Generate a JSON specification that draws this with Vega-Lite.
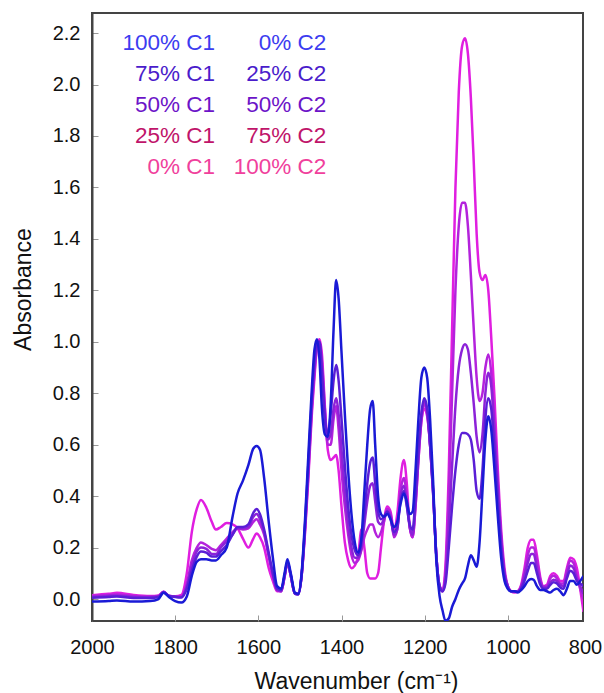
{
  "$schema": "https://vega.github.io/schema/vega-lite/v6.json",
  "width": 491,
  "height": 608,
  "autosize": "none",
  "padding": {"left": 92, "top": 13, "right": 21, "bottom": 72},
  "background": "white",
  "config": {"font": "Liberation Sans", "view": {"stroke": "#444", "strokeWidth": 2}},
  "data": {"values": [
    {"w": 2000, "100% C1": -0.01, "75% C1": 0.005, "50% C1": 0.008, "25% C1": 0.012, "0% C1": 0.015},
    {"w": 1960, "100% C1": -0.008, "75% C1": 0.008, "50% C1": 0.012, "25% C1": 0.016, "0% C1": 0.02},
    {"w": 1940, "100% C1": -0.006, "75% C1": 0.01, "50% C1": 0.013, "25% C1": 0.018, "0% C1": 0.024},
    {"w": 1900, "100% C1": -0.01, "75% C1": 0.004, "50% C1": 0.008, "25% C1": 0.012, "0% C1": 0.016},
    {"w": 1860, "100% C1": -0.008, "75% C1": 0.004, "50% C1": 0.007, "25% C1": 0.01, "0% C1": 0.012},
    {"w": 1840, "100% C1": 0.0, "75% C1": 0.008, "50% C1": 0.01, "25% C1": 0.012, "0% C1": 0.014},
    {"w": 1828, "100% C1": 0.024, "75% C1": 0.026, "50% C1": 0.027, "25% C1": 0.028, "0% C1": 0.028},
    {"w": 1815, "100% C1": 0.008, "75% C1": 0.012, "50% C1": 0.012, "25% C1": 0.013, "0% C1": 0.012},
    {"w": 1800, "100% C1": -0.008, "75% C1": 0.008, "50% C1": 0.009, "25% C1": 0.01, "0% C1": 0.011},
    {"w": 1785, "100% C1": -0.014, "75% C1": 0.006, "50% C1": 0.008, "25% C1": 0.01, "0% C1": 0.016},
    {"w": 1772, "100% C1": 0.01, "75% C1": 0.04, "50% C1": 0.05, "25% C1": 0.06, "0% C1": 0.1},
    {"w": 1760, "100% C1": 0.09, "75% C1": 0.11, "50% C1": 0.13, "25% C1": 0.15, "0% C1": 0.26},
    {"w": 1748, "100% C1": 0.145, "75% C1": 0.165, "50% C1": 0.185, "25% C1": 0.2, "0% C1": 0.35},
    {"w": 1738, "100% C1": 0.155, "75% C1": 0.185, "50% C1": 0.2, "25% C1": 0.22, "0% C1": 0.385},
    {"w": 1725, "100% C1": 0.155, "75% C1": 0.18, "50% C1": 0.195, "25% C1": 0.21, "0% C1": 0.355},
    {"w": 1712, "100% C1": 0.15, "75% C1": 0.165, "50% C1": 0.175, "25% C1": 0.195, "0% C1": 0.3},
    {"w": 1702, "100% C1": 0.15, "75% C1": 0.165, "50% C1": 0.175, "25% C1": 0.19, "0% C1": 0.27},
    {"w": 1690, "100% C1": 0.17, "75% C1": 0.185, "50% C1": 0.2, "25% C1": 0.21, "0% C1": 0.28},
    {"w": 1676, "100% C1": 0.2, "75% C1": 0.21, "50% C1": 0.225, "25% C1": 0.235, "0% C1": 0.295},
    {"w": 1662, "100% C1": 0.32, "75% C1": 0.25, "50% C1": 0.25, "25% C1": 0.26, "0% C1": 0.29},
    {"w": 1650, "100% C1": 0.41, "75% C1": 0.28, "50% C1": 0.275, "25% C1": 0.275, "0% C1": 0.275},
    {"w": 1637, "100% C1": 0.46, "75% C1": 0.28, "50% C1": 0.275, "25% C1": 0.27, "0% C1": 0.235},
    {"w": 1624, "100% C1": 0.52, "75% C1": 0.29, "50% C1": 0.28, "25% C1": 0.275, "0% C1": 0.2},
    {"w": 1612, "100% C1": 0.585, "75% C1": 0.335, "50% C1": 0.32, "25% C1": 0.3, "0% C1": 0.235},
    {"w": 1604, "100% C1": 0.595, "75% C1": 0.35, "50% C1": 0.33, "25% C1": 0.31, "0% C1": 0.255},
    {"w": 1596, "100% C1": 0.58, "75% C1": 0.33, "50% C1": 0.31, "25% C1": 0.29, "0% C1": 0.24},
    {"w": 1586, "100% C1": 0.47, "75% C1": 0.27, "50% C1": 0.26, "25% C1": 0.25, "0% C1": 0.2},
    {"w": 1575, "100% C1": 0.3, "75% C1": 0.18, "50% C1": 0.17, "25% C1": 0.165, "0% C1": 0.12},
    {"w": 1565, "100% C1": 0.16, "75% C1": 0.1, "50% C1": 0.095, "25% C1": 0.09, "0% C1": 0.07},
    {"w": 1555, "100% C1": 0.05, "75% C1": 0.04, "50% C1": 0.035, "25% C1": 0.035, "0% C1": 0.03},
    {"w": 1545, "100% C1": 0.04, "75% C1": 0.035, "50% C1": 0.03, "25% C1": 0.03, "0% C1": 0.03},
    {"w": 1537, "100% C1": 0.1, "75% C1": 0.09, "50% C1": 0.09, "25% C1": 0.085, "0% C1": 0.085},
    {"w": 1530, "100% C1": 0.155, "75% C1": 0.145, "50% C1": 0.14, "25% C1": 0.14, "0% C1": 0.14},
    {"w": 1522, "100% C1": 0.1, "75% C1": 0.095, "50% C1": 0.09, "25% C1": 0.09, "0% C1": 0.09},
    {"w": 1512, "100% C1": 0.025, "75% C1": 0.02, "50% C1": 0.02, "25% C1": 0.02, "0% C1": 0.02},
    {"w": 1504, "100% C1": 0.02, "75% C1": 0.018, "50% C1": 0.018, "25% C1": 0.02, "0% C1": 0.02},
    {"w": 1496, "100% C1": 0.1, "75% C1": 0.09, "50% C1": 0.09, "25% C1": 0.09, "0% C1": 0.09},
    {"w": 1488, "100% C1": 0.3, "75% C1": 0.28, "50% C1": 0.27, "25% C1": 0.26, "0% C1": 0.25},
    {"w": 1480, "100% C1": 0.55, "75% C1": 0.52, "50% C1": 0.5, "25% C1": 0.48, "0% C1": 0.46},
    {"w": 1472, "100% C1": 0.8, "75% C1": 0.76, "50% C1": 0.74, "25% C1": 0.72, "0% C1": 0.7},
    {"w": 1465, "100% C1": 0.97, "75% C1": 0.93, "50% C1": 0.9, "25% C1": 0.88, "0% C1": 0.86},
    {"w": 1459, "100% C1": 1.01, "75% C1": 1.0, "50% C1": 0.99, "25% C1": 0.98, "0% C1": 0.98},
    {"w": 1453, "100% C1": 0.93, "75% C1": 1.0, "50% C1": 1.0, "25% C1": 1.0, "0% C1": 1.01},
    {"w": 1447, "100% C1": 0.74, "75% C1": 0.88, "50% C1": 0.9, "25% C1": 0.92, "0% C1": 0.95},
    {"w": 1440, "100% C1": 0.64, "75% C1": 0.7, "50% C1": 0.72, "25% C1": 0.74, "0% C1": 0.75},
    {"w": 1433, "100% C1": 0.63, "75% C1": 0.64, "50% C1": 0.62, "25% C1": 0.6, "0% C1": 0.58},
    {"w": 1426, "100% C1": 0.76, "75% C1": 0.72, "50% C1": 0.64, "25% C1": 0.6, "0% C1": 0.54},
    {"w": 1419, "100% C1": 1.05, "75% C1": 0.85, "50% C1": 0.74, "25% C1": 0.7, "0% C1": 0.55},
    {"w": 1413, "100% C1": 1.24, "75% C1": 0.91, "50% C1": 0.78, "25% C1": 0.75, "0% C1": 0.56},
    {"w": 1407, "100% C1": 1.17, "75% C1": 0.85, "50% C1": 0.72, "25% C1": 0.66, "0% C1": 0.5},
    {"w": 1400, "100% C1": 0.96, "75% C1": 0.7, "50% C1": 0.58, "25% C1": 0.5, "0% C1": 0.36},
    {"w": 1392, "100% C1": 0.72, "75% C1": 0.52, "50% C1": 0.42, "25% C1": 0.36, "0% C1": 0.22},
    {"w": 1384, "100% C1": 0.5, "75% C1": 0.36, "50% C1": 0.29, "25% C1": 0.25, "0% C1": 0.15},
    {"w": 1376, "100% C1": 0.33, "75% C1": 0.25, "50% C1": 0.2, "25% C1": 0.17, "0% C1": 0.12},
    {"w": 1368, "100% C1": 0.22, "75% C1": 0.19, "50% C1": 0.16, "25% C1": 0.14, "0% C1": 0.13},
    {"w": 1360, "100% C1": 0.18, "75% C1": 0.17, "50% C1": 0.16, "25% C1": 0.15, "0% C1": 0.17},
    {"w": 1352, "100% C1": 0.24, "75% C1": 0.22, "50% C1": 0.2, "25% C1": 0.19, "0% C1": 0.27},
    {"w": 1345, "100% C1": 0.42, "75% C1": 0.33, "50% C1": 0.29, "25% C1": 0.24, "0% C1": 0.2},
    {"w": 1338, "100% C1": 0.6, "75% C1": 0.45, "50% C1": 0.38, "25% C1": 0.27, "0% C1": 0.1},
    {"w": 1331, "100% C1": 0.74, "75% C1": 0.53, "50% C1": 0.44, "25% C1": 0.29, "0% C1": 0.08},
    {"w": 1325, "100% C1": 0.77, "75% C1": 0.55, "50% C1": 0.45, "25% C1": 0.29, "0% C1": 0.08},
    {"w": 1319, "100% C1": 0.6, "75% C1": 0.45, "50% C1": 0.38, "25% C1": 0.26, "0% C1": 0.08},
    {"w": 1312, "100% C1": 0.4, "75% C1": 0.34, "50% C1": 0.3, "25% C1": 0.24, "0% C1": 0.1},
    {"w": 1305, "100% C1": 0.33, "75% C1": 0.31, "50% C1": 0.29, "25% C1": 0.26, "0% C1": 0.2},
    {"w": 1298, "100% C1": 0.32, "75% C1": 0.32, "50% C1": 0.31, "25% C1": 0.3, "0% C1": 0.3},
    {"w": 1290, "100% C1": 0.33, "75% C1": 0.34, "50% C1": 0.34, "25% C1": 0.35, "0% C1": 0.36},
    {"w": 1282, "100% C1": 0.31, "75% C1": 0.31, "50% C1": 0.32, "25% C1": 0.33, "0% C1": 0.34},
    {"w": 1274, "100% C1": 0.28, "75% C1": 0.26, "50% C1": 0.25, "25% C1": 0.24, "0% C1": 0.27},
    {"w": 1266, "100% C1": 0.3, "75% C1": 0.28, "50% C1": 0.27, "25% C1": 0.27, "0% C1": 0.33},
    {"w": 1258, "100% C1": 0.37, "75% C1": 0.38, "50% C1": 0.4, "25% C1": 0.42, "0% C1": 0.47},
    {"w": 1250, "100% C1": 0.41, "75% C1": 0.42, "50% C1": 0.44, "25% C1": 0.47, "0% C1": 0.54},
    {"w": 1243, "100% C1": 0.38, "75% C1": 0.36, "50% C1": 0.37, "25% C1": 0.4, "0% C1": 0.45},
    {"w": 1236, "100% C1": 0.33, "75% C1": 0.29, "50% C1": 0.28, "25% C1": 0.28, "0% C1": 0.28},
    {"w": 1229, "100% C1": 0.34, "75% C1": 0.27, "50% C1": 0.25, "25% C1": 0.24, "0% C1": 0.24},
    {"w": 1222, "100% C1": 0.5, "75% C1": 0.4, "50% C1": 0.38, "25% C1": 0.36, "0% C1": 0.36},
    {"w": 1215, "100% C1": 0.7, "75% C1": 0.58, "50% C1": 0.56, "25% C1": 0.54, "0% C1": 0.54},
    {"w": 1208, "100% C1": 0.86, "75% C1": 0.72, "50% C1": 0.71, "25% C1": 0.69, "0% C1": 0.69},
    {"w": 1201, "100% C1": 0.9, "75% C1": 0.78, "50% C1": 0.77, "25% C1": 0.76, "0% C1": 0.74},
    {"w": 1194, "100% C1": 0.86, "75% C1": 0.74, "50% C1": 0.73, "25% C1": 0.72, "0% C1": 0.71},
    {"w": 1187, "100% C1": 0.7, "75% C1": 0.6, "50% C1": 0.6, "25% C1": 0.6, "0% C1": 0.6},
    {"w": 1180, "100% C1": 0.47, "75% C1": 0.42, "50% C1": 0.42, "25% C1": 0.43, "0% C1": 0.43},
    {"w": 1172, "100% C1": 0.15, "75% C1": 0.17, "50% C1": 0.17, "25% C1": 0.17, "0% C1": 0.17},
    {"w": 1164, "100% C1": 0.01, "75% C1": 0.05, "50% C1": 0.05, "25% C1": 0.05, "0% C1": 0.05},
    {"w": 1157, "100% C1": -0.045, "75% C1": 0.03, "50% C1": 0.03, "25% C1": 0.03, "0% C1": 0.035},
    {"w": 1150, "100% C1": -0.085, "75% C1": 0.06, "50% C1": 0.08, "25% C1": 0.1, "0% C1": 0.13},
    {"w": 1142, "100% C1": -0.075, "75% C1": 0.2, "50% C1": 0.28, "25% C1": 0.4, "0% C1": 0.5},
    {"w": 1134, "100% C1": -0.03, "75% C1": 0.36, "50% C1": 0.52, "25% C1": 0.8, "0% C1": 1.05},
    {"w": 1126, "100% C1": 0.0, "75% C1": 0.5, "50% C1": 0.75, "25% C1": 1.2, "0% C1": 1.6},
    {"w": 1118, "100% C1": 0.035, "75% C1": 0.6, "50% C1": 0.9, "25% C1": 1.45, "0% C1": 1.97},
    {"w": 1110, "100% C1": 0.06, "75% C1": 0.645, "50% C1": 0.97, "25% C1": 1.54, "0% C1": 2.15},
    {"w": 1103, "100% C1": 0.08, "75% C1": 0.645, "50% C1": 0.99, "25% C1": 1.54, "0% C1": 2.18},
    {"w": 1096, "100% C1": 0.13, "75% C1": 0.64, "50% C1": 0.97, "25% C1": 1.45, "0% C1": 2.12},
    {"w": 1089, "100% C1": 0.17, "75% C1": 0.62, "50% C1": 0.88, "25% C1": 1.26, "0% C1": 1.95},
    {"w": 1082, "100% C1": 0.15, "75% C1": 0.54, "50% C1": 0.76, "25% C1": 1.05, "0% C1": 1.7},
    {"w": 1075, "100% C1": 0.125, "75% C1": 0.42, "50% C1": 0.63, "25% C1": 0.86, "0% C1": 1.42},
    {"w": 1068, "100% C1": 0.22, "75% C1": 0.39, "50% C1": 0.57, "25% C1": 0.77, "0% C1": 1.27},
    {"w": 1061, "100% C1": 0.42, "75% C1": 0.5, "50% C1": 0.64, "25% C1": 0.8, "0% C1": 1.24},
    {"w": 1054, "100% C1": 0.62, "75% C1": 0.7, "50% C1": 0.8, "25% C1": 0.9, "0% C1": 1.26},
    {"w": 1047, "100% C1": 0.71, "75% C1": 0.78, "50% C1": 0.88, "25% C1": 0.95, "0% C1": 1.2},
    {"w": 1040, "100% C1": 0.66, "75% C1": 0.74, "50% C1": 0.83, "25% C1": 0.88, "0% C1": 1.02},
    {"w": 1032, "100% C1": 0.5, "75% C1": 0.58, "50% C1": 0.65, "25% C1": 0.68, "0% C1": 0.78},
    {"w": 1024, "100% C1": 0.32, "75% C1": 0.38, "50% C1": 0.43, "25% C1": 0.45, "0% C1": 0.5},
    {"w": 1016, "100% C1": 0.16, "75% C1": 0.2, "50% C1": 0.23, "25% C1": 0.24, "0% C1": 0.27},
    {"w": 1008, "100% C1": 0.07, "75% C1": 0.09, "50% C1": 0.1, "25% C1": 0.1, "0% C1": 0.12},
    {"w": 1000, "100% C1": 0.04, "75% C1": 0.045, "50% C1": 0.05, "25% C1": 0.05, "0% C1": 0.05},
    {"w": 992, "100% C1": 0.03, "75% C1": 0.03, "50% C1": 0.03, "25% C1": 0.03, "0% C1": 0.03},
    {"w": 984, "100% C1": 0.03, "75% C1": 0.03, "50% C1": 0.03, "25% C1": 0.03, "0% C1": 0.025},
    {"w": 976, "100% C1": 0.025, "75% C1": 0.028, "50% C1": 0.03, "25% C1": 0.03, "0% C1": 0.03},
    {"w": 968, "100% C1": 0.035, "75% C1": 0.04, "50% C1": 0.045, "25% C1": 0.05, "0% C1": 0.055},
    {"w": 960, "100% C1": 0.05, "75% C1": 0.07, "50% C1": 0.09, "25% C1": 0.1, "0% C1": 0.12},
    {"w": 952, "100% C1": 0.07, "75% C1": 0.11, "50% C1": 0.14, "25% C1": 0.17, "0% C1": 0.2},
    {"w": 944, "100% C1": 0.078, "75% C1": 0.14, "50% C1": 0.175, "25% C1": 0.2, "0% C1": 0.23},
    {"w": 938, "100% C1": 0.075, "75% C1": 0.14, "50% C1": 0.175, "25% C1": 0.2, "0% C1": 0.23},
    {"w": 930, "100% C1": 0.05, "75% C1": 0.1, "50% C1": 0.12, "25% C1": 0.15, "0% C1": 0.17},
    {"w": 922, "100% C1": 0.035, "75% C1": 0.055, "50% C1": 0.065, "25% C1": 0.075, "0% C1": 0.085},
    {"w": 914, "100% C1": 0.035, "75% C1": 0.04, "50% C1": 0.045, "25% C1": 0.05, "0% C1": 0.05},
    {"w": 906, "100% C1": 0.03, "75% C1": 0.04, "50% C1": 0.045, "25% C1": 0.05, "0% C1": 0.055},
    {"w": 898, "100% C1": 0.025, "75% C1": 0.055, "50% C1": 0.065, "25% C1": 0.08, "0% C1": 0.09},
    {"w": 890, "100% C1": 0.035, "75% C1": 0.065, "50% C1": 0.075, "25% C1": 0.09, "0% C1": 0.1},
    {"w": 882, "100% C1": 0.04, "75% C1": 0.06, "50% C1": 0.07, "25% C1": 0.08, "0% C1": 0.09},
    {"w": 874, "100% C1": 0.03, "75% C1": 0.045, "50% C1": 0.055, "25% C1": 0.06, "0% C1": 0.07},
    {"w": 866, "100% C1": 0.015, "75% C1": 0.04, "50% C1": 0.05, "25% C1": 0.06, "0% C1": 0.07},
    {"w": 858, "100% C1": 0.04, "75% C1": 0.08, "50% C1": 0.09, "25% C1": 0.11, "0% C1": 0.12},
    {"w": 850, "100% C1": 0.07, "75% C1": 0.11, "50% C1": 0.13, "25% C1": 0.15, "0% C1": 0.16},
    {"w": 842, "100% C1": 0.07, "75% C1": 0.1, "50% C1": 0.12, "25% C1": 0.14, "0% C1": 0.155},
    {"w": 834, "100% C1": 0.055, "75% C1": 0.07, "50% C1": 0.08, "25% C1": 0.09, "0% C1": 0.12},
    {"w": 826, "100% C1": 0.07, "75% C1": 0.06, "50% C1": 0.05, "25% C1": 0.04, "0% C1": 0.04},
    {"w": 818, "100% C1": 0.09, "75% C1": 0.05, "50% C1": 0.02, "25% C1": 0.0, "0% C1": -0.05}
  ]},
  "transform": [
    {"fold": ["0% C1", "25% C1", "50% C1", "75% C1", "100% C1"], "as": ["series", "absorbance"]}
  ],
  "mark": {"type": "line", "interpolate": "monotone", "strokeWidth": 2.5, "clip": true},
  "encoding": {
    "x": {
      "field": "w", "type": "quantitative",
      "scale": {"domain": [2000, 800], "range": [0, 499], "nice": false, "zero": false},
      "axis": {
        "values": [2000, 1800, 1600, 1400, 1200, 1000, 800],
        "format": "d", "grid": false,
        "domain": false,
        "tickColor": "#999", "tickWidth": 1, "tickSize": -6,
        "tickOpacity": {"condition": {"test": "datum.value < 810", "value": 0}, "value": 1},
        "labelOffset": {"condition": {"test": "datum.value < 810", "value": -6}, "value": 0},
        "labelFontSize": 20, "labelColor": "#111", "labelPadding": 22,
        "labelFlush": false, "labelOverlap": false,
        "title": "Wavenumber (cm⁻¹)", "titleFontSize": 23, "titleFontWeight": "normal", "titleColor": "#111",
        "titleX": 264, "titleY": 67, "titleAlign": "center", "titleBaseline": "alphabetic"
      }
    },
    "y": {
      "field": "absorbance", "type": "quantitative",
      "scale": {"domain": [-0.0855, 2.278], "nice": false, "zero": false},
      "axis": {
        "values": [0, 0.2, 0.4, 0.6, 0.8, 1.0, 1.2, 1.4, 1.6, 1.8, 2.0, 2.2],
        "format": ".1f", "grid": false,
        "domainColor": "#444", "domainWidth": 2,
        "tickColor": "#999", "tickWidth": 1, "tickSize": -6,
        "labelFontSize": 20, "labelColor": "#111", "labelPadding": 18,
        "labelFlush": false, "labelOverlap": false,
        "title": "Absorbance", "titleFontSize": 23, "titleFontWeight": "normal", "titleColor": "#111",
        "titleX": -62, "titleY": 276, "titleAngle": -90, "titleAlign": "center", "titleBaseline": "alphabetic"
      }
    },
    "color": {
      "field": "series", "type": "nominal",
      "scale": {
        "domain": ["100% C1", "75% C1", "50% C1", "25% C1", "0% C1"],
        "range": ["#1a1ad6", "#5a1ed6", "#8c22d8", "#b422dc", "#e01ee0"]
      },
      "legend": {
        "orient": "none", "legendX": 8, "legendY": 19,
        "title": null, "padding": 0,
        "symbolOpacity": 0, "symbolSize": 0, "symbolStrokeWidth": 0, "symbolType": "stroke",
        "labelFontSize": 22.5, "labelOffset": 0, "rowPadding": 8, "labelLimit": 500,
        "labelAlign": "left", "labelBaseline": "middle",
        "labelExpr": "{'100% C1':'\u200b100% C1\u00a0\u00a0\u00a0\u2007\u20070% C2','75% C1':'\u200b\u200775% C1\u00a0\u00a0\u00a0\u200725% C2','50% C1':'\u200b\u200750% C1\u00a0\u00a0\u00a0\u200750% C2','25% C1':'\u200b\u200725% C1\u00a0\u00a0\u00a0\u200775% C2','0% C1':'\u200b\u2007\u20070% C1\u00a0\u00a0\u00a0100% C2'}[datum.value]",
        "encode": {"labels": {"update": {"fill": {"signal": "{'100% C1':'#3c3cf0','75% C1':'#4a1ccb','50% C1':'#6c14c8','25% C1':'#c0146a','0% C1':'#f0409c'}[datum.value]"}}}}
      }
    }
  }
}
